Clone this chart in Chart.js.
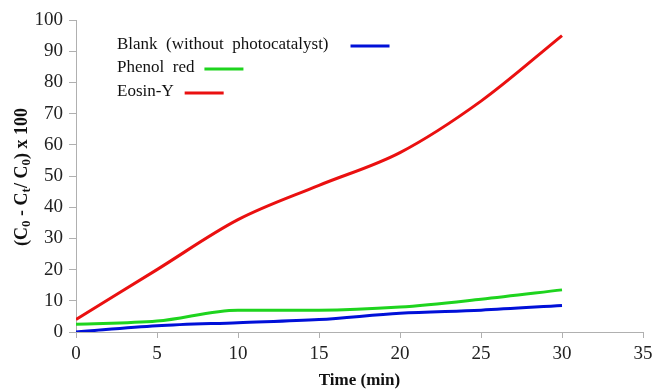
<!DOCTYPE html>
<html>
<head>
<meta charset="utf-8">
<script src="https://cdn.jsdelivr.net/npm/chart.js@4/dist/chart.umd.min.js"></script>
<style>
  html, body { margin: 0; padding: 0; background: #fff; }
  #wrap { width: 654px; height: 389px; }
</style>
</head>
<body>
<div id="wrap"><canvas id="degradChart" width="654" height="389"></canvas></div>
<script>
// time points (min) and % degradation
const times = [0, 5, 10, 15, 20, 25, 30];
const blank = [0, 2, 3, 4, 6, 7, 8.5];
const phenolRed = [2.5, 3.5, 7, 7, 8, 10.5, 13.5];
const eosinY = [4, 20, 36, 47, 57.5, 74, 95];
const xTicks = [0, 5, 10, 15, 20, 25, 30, 35];
const yTicks = [0, 10, 20, 30, 40, 50, 60, 70, 80, 90, 100];

const serif = '"Liberation Serif", "Times New Roman", serif';

function pts(vals) {
    return times.map((t, i) => ({x: t, y: vals[i]}));
}

// legend drawn inside the plot: text followed by a short line sample
const inlineLegend = {
    id: 'inlineLegend',
    afterDraw(chart) {
        const c = chart.ctx;
        const rows = [
            {ds: 0, x: 117, y: 45, gap: 22},
            {ds: 1, x: 117, y: 68, gap: 10},
            {ds: 2, x: 117, y: 92, gap: 11}
        ];
        c.save();
        c.font = '17px ' + serif;
        c.textBaseline = 'middle';
        c.fillStyle = '#111';
        rows.forEach(r => {
            const d = chart.data.datasets[r.ds];
            c.fillText(d.label, r.x, r.y);
            const w = c.measureText(d.label).width;
            const x0 = r.x + w + r.gap;
            c.strokeStyle = d.borderColor;
            c.lineWidth = 3;
            c.beginPath();
            c.moveTo(x0, r.y + 1);
            c.lineTo(x0 + 39, r.y + 1);
            c.stroke();
        });
        c.restore();
    }
};

// y title with subscripts
const yTitle = {
    id: 'yTitle',
    afterDraw(chart) {
        const c = chart.ctx;
        const parts = [
            ['(C', false], ['0', true], [' - C', false], ['t', true],
            ['/ C', false], ['0', true], [') x 100', false]
        ];
        const big = 'bold 18px ' + serif;
        const small = 'bold 13px ' + serif;
        c.save();
        let total = 0;
        parts.forEach(p => { c.font = p[1] ? small : big; total += c.measureText(p[0]).width; });
        c.translate(22, 177);
        c.rotate(-Math.PI / 2);
        c.textBaseline = 'middle';
        c.fillStyle = '#111';
        let x = -total / 2;
        parts.forEach(p => {
            c.font = p[1] ? small : big;
            c.fillText(p[0], x, p[1] ? 5 : 0);
            x += c.measureText(p[0]).width;
        });
        c.restore();
    }
};

const ctx = document.getElementById('degradChart').getContext('2d');
const degradChart = new Chart(ctx, {
    type: 'line',
    data: {
        datasets: [
            {label: 'Blank  (without  photocatalyst)', data: pts(blank), borderColor: '#0010d8'},
            {label: 'Phenol  red', data: pts(phenolRed), borderColor: '#1ed41e'},
            {label: 'Eosin-Y', data: pts(eosinY), borderColor: '#ea1010'}
        ]
    },
    options: {
        responsive: false,
        animation: false,
        layout: {padding: {top: 20, right: 11, left: 0, bottom: 0}},
        elements: {
            line: {borderWidth: 3, tension: 0.35, cubicInterpolationMode: 'monotone'},
            point: {radius: 0}
        },
        plugins: {
            legend: {display: false},
            tooltip: {enabled: false}
        },
        scales: {
            x: {
                type: 'linear',
                min: 0,
                max: 35,
                afterBuildTicks: s => { s.ticks = xTicks.map(v => ({value: v})); },
                afterFit: s => { s.height = 57; s.paddingLeft = 0; s.paddingRight = 0; },
                border: {color: '#b0b0b0', width: 1},
                grid: {drawOnChartArea: false, color: '#b0b0b0', tickLength: 6},
                ticks: {color: '#222', font: {family: serif, size: 19}, padding: 5},
                title: {display: true, text: 'Time (min)', color: '#111', font: {family: serif, size: 17, weight: 'bold'}, padding: {top: 0, bottom: -2}}
            },
            y: {
                min: 0,
                max: 100,
                afterBuildTicks: s => { s.ticks = yTicks.map(v => ({value: v})); },
                afterFit: s => { s.width = 76; s.paddingTop = 0; s.paddingBottom = 0; },
                border: {color: '#b0b0b0', width: 1},
                grid: {drawOnChartArea: false, color: '#b0b0b0', tickLength: 7},
                ticks: {color: '#222', font: {family: serif, size: 19}, padding: 6}
            }
        }
    },
    plugins: [inlineLegend, yTitle]
});
</script>
</body>
</html>
